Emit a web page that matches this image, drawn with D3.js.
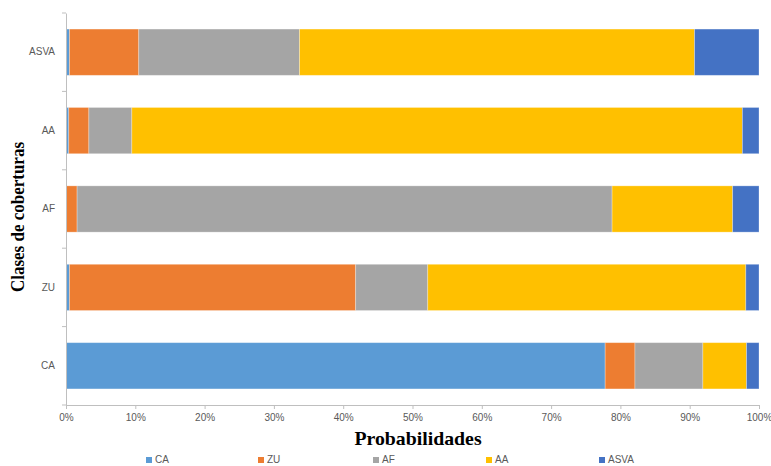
<!DOCTYPE html>
<html>
<head>
<meta charset="utf-8">
<script src="https://cdn.jsdelivr.net/npm/d3@7"></script>
<style>
  html, body { margin: 0; padding: 0; background: #fff; }
  svg { display: block; }
</style>
</head>
<body>
<svg id="chart" width="771" height="466"></svg>
<script>
// ---- data ----
const categories = ["ASVA", "AA", "AF", "ZU", "CA"]; // top to bottom
const seriesNames = ["CA", "ZU", "AF", "AA", "ASVA"];
const seriesColors = ["#5B9BD5", "#ED7D31", "#A5A5A5", "#FFC000", "#4472C4"];
// values (%) per series, in the order of `categories`
const caValues   = [0.5, 0.4, 0.0, 0.5, 77.8];
const zuValues   = [10.0, 2.9, 1.6, 41.3, 4.3];
const afValues   = [23.2, 6.2, 77.2, 10.4, 9.8];
const aaValues   = [57.0, 88.1, 17.4, 45.9, 6.3];
const asvaValues = [9.3, 2.4, 3.8, 1.9, 1.8];
const xTickValues = [0, 10, 20, 30, 40, 50, 60, 70, 80, 90, 100];
const xTitle = "Probabilidades";
const yTitle = "Clases de coberturas";

const seriesValues = [caValues, zuValues, afValues, aaValues, asvaValues];
const table = categories.map((c, i) => {
  const row = { category: c };
  seriesNames.forEach((s, j) => row[s] = seriesValues[j][i]);
  return row;
});

// ---- layout ----
const svg = d3.select("#chart");
const mLeft = 66, mRight = 759, mTop = 13, mBottom = 405;

const x = d3.scaleLinear().domain([0, 100]).range([mLeft, mRight]);
const y = d3.scaleBand().domain(categories).range([mTop, mBottom])
  .paddingInner(0.41).paddingOuter(0.205);
const color = d3.scaleOrdinal().domain(seriesNames).range(seriesColors);

const stacked = d3.stack().keys(seriesNames)(table);

// bars
svg.append("g").selectAll("g")
  .data(stacked).join("g")
  .attr("fill", d => color(d.key))
  .selectAll("rect")
  .data(d => d).join("rect")
  .attr("x", d => x(d[0]))
  .attr("y", d => y(d.data.category))
  .attr("width", d => Math.max(0, x(d[1]) - x(d[0])))
  .attr("height", y.bandwidth())
  .attr("stroke", "#ffffff")
  .attr("stroke-opacity", 0.35)
  .attr("stroke-width", 0.8);

const axisColor = "#BFBFBF";
const labelColor = "#595959";
const tickFont = "'Liberation Sans', Arial, sans-serif";

// x axis
const xAxis = svg.append("g")
  .attr("transform", `translate(0,${mBottom})`)
  .call(d3.axisBottom(x).tickValues(xTickValues).tickFormat(d => d + "%")
    .tickSize(4).tickSizeOuter(0).tickPadding(5));
xAxis.select(".domain").attr("stroke", axisColor);
xAxis.selectAll(".tick line").attr("stroke", axisColor);
xAxis.selectAll(".tick text")
  .attr("fill", labelColor)
  .style("font-family", tickFont)
  .style("font-size", "10px");

// y axis
const yAxis = svg.append("g")
  .attr("transform", `translate(${mLeft},0)`)
  .call(d3.axisLeft(y).tickSize(0).tickPadding(11));
yAxis.select(".domain").attr("stroke", axisColor);
yAxis.selectAll(".tick text")
  .attr("fill", labelColor)
  .style("font-family", tickFont)
  .style("font-size", "10px");

// boundary ticks on y axis
const boundaries = d3.range(categories.length + 1).map(i => mTop + i * y.step());
yAxis.selectAll(".bound").data(boundaries).join("line")
  .attr("class", "bound")
  .attr("x1", -4).attr("x2", 0)
  .attr("y1", d => d).attr("y2", d => d)
  .attr("stroke", axisColor);

// axis titles
svg.append("text")
  .attr("transform", `translate(418,445) scale(1.1,1)`)
  .attr("text-anchor", "middle")
  .style("font-family", "'Liberation Serif', 'Times New Roman', serif")
  .style("font-weight", "bold")
  .style("font-size", "18px")
  .attr("fill", "#000")
  .text(xTitle);

svg.append("text")
  .attr("transform", `translate(24,${(mTop + mBottom) / 2 + 8}) scale(1.1,1) rotate(-90)`)
  .attr("text-anchor", "middle")
  .style("font-family", "'Liberation Serif', 'Times New Roman', serif")
  .style("font-weight", "bold")
  .style("font-size", "17px")
  .attr("fill", "#000")
  .text(yTitle);

// legend
const legendX = [146, 258, 373, 486, 599];
const legend = svg.append("g").selectAll("g")
  .data(seriesNames).join("g")
  .attr("transform", (d, i) => `translate(${legendX[i]},457)`);
legend.append("rect")
  .attr("width", 6).attr("height", 6)
  .attr("fill", d => color(d));
legend.append("text")
  .attr("x", 9).attr("y", 6)
  .attr("fill", labelColor)
  .style("font-family", tickFont)
  .style("font-size", "10px")
  .text(d => d);
</script>
</body>
</html>
